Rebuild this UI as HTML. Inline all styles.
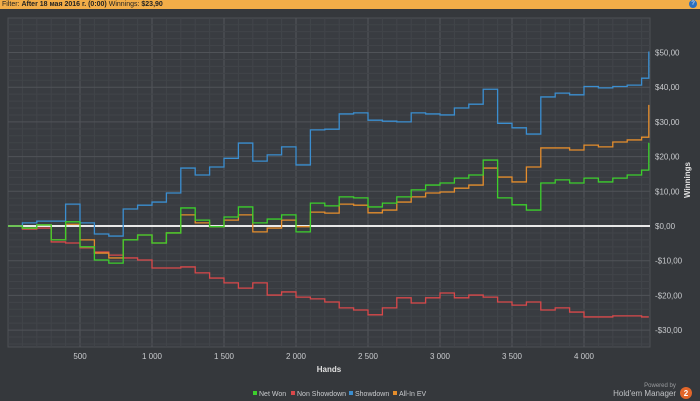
<!DOCTYPE html>
<html><head><meta charset="utf-8"><style>
body{margin:0;background:#35383c;font-family:"Liberation Sans",sans-serif;}
#wrap{position:relative;width:700px;height:401px;overflow:hidden;background:#35383c;}
#bar{position:absolute;left:0;top:0;width:700px;height:9px;background:#f2ad48;font-size:7px;line-height:9px;color:#222;padding-left:2px;box-sizing:border-box;}
#help{position:absolute;right:3px;top:0;width:8px;height:8px;border-radius:50%;background:#2a6fc0;color:#fff;font-size:6px;line-height:8px;text-align:center;}
svg{position:absolute;left:0;top:0;}
</style></head><body>
<div id="wrap">
<div id="bar">Filter: <b>After 18 мая 2016 г. (0:00)</b> Winnings: <b>$23,90</b><span id="help">?</span></div>
<svg id="chart" width="700" height="401"></svg>
</div>
<script>
const hands=[0,100,200,300,400,500,600,700,800,900,1000,1100,1200,1300,1400,1500,1600,1700,1800,1900,2000,2100,2200,2300,2400,2500,2600,2700,2800,2900,3000,3100,3200,3300,3400,3500,3600,3700,3800,3900,4000,4100,4200,4300,4400,4450];
const showdown=[0,0.9,1.4,1.4,6.3,0.9,-2.3,-2.9,4.9,6.0,6.9,9.5,16.7,14.7,17.0,19.5,23.9,18.7,20.5,22.8,17.6,27.7,27.9,32.3,32.6,30.5,30.2,30.0,32.6,32.3,32.0,34.0,35.1,39.4,29.6,28.3,26.5,37.2,38.3,37.8,40.2,39.8,40.2,40.6,42.6,50.3];
const netWon=[0,-0.6,0.3,-4,1.2,-6,-9.8,-10.7,-4,-2.6,-4.9,-2,5.2,1.7,-0.2,2.6,5.5,0.9,2,3.2,-1.7,6.6,5.8,8.4,8.1,5.5,6.6,8.4,10.4,11.8,12.4,13.8,14.7,19,8.1,6.1,4.6,12.4,13.3,12.4,13.8,12.7,13.8,14.7,16.1,24.0];
const allInEV=[0,-0.6,0.3,-4,0.5,-4,-7.8,-9.2,-4,-2.6,-4.9,-2,3.2,0.9,-0.2,1.7,3.2,-1.7,-0.6,1.7,-0.2,4,3.7,6.3,6,3.8,4.6,6.9,8.4,9.5,9.8,10.9,11.8,16.7,14.1,12.7,17,22.5,22.5,21.9,23.3,22.8,24.2,24.8,25.6,34.9];
const nonShowdown=[0,-0.9,-0.6,-4.6,-4.9,-6.3,-7.5,-8.4,-9.2,-9.8,-12.1,-12.1,-11.8,-13.5,-15,-16.4,-17.9,-16.4,-19.9,-19,-20.5,-21,-21.9,-23.6,-24.2,-25.6,-23.6,-20.7,-22.2,-20.7,-19.3,-20.7,-19.9,-20.5,-21.9,-22.8,-21.9,-24.2,-23.6,-24.8,-26.2,-26.2,-25.9,-25.9,-26.2,-26.2];
const xTicks=[500,1000,1500,2000,2500,3000,3500,4000];
const xTickLabels=["500","1 000","1 500","2 000","2 500","3 000","3 500","4 000"];
const yTicks=[50,40,30,20,10,0,-10,-20,-30];
const yTickLabels=["$50,00","$40,00","$30,00","$20,00","$10,00","$0,00","-$10,00","-$20,00","-$30,00"];
const L=8,R=650,T=18,B=347;
const X=h=>L+h*0.144;
const Y=v=>226-v*3.47;
const svg=document.getElementById('chart');
const NS='http://www.w3.org/2000/svg';
function mk(tag,attrs){const e=document.createElementNS(NS,tag);for(const k in attrs)e.setAttribute(k,attrs[k]);svg.appendChild(e);return e;}
let r=mk('rect',{x:L,y:T,width:R-L,height:B-T,fill:'#393c41',stroke:'#4d5055'});


for(let h=100;X(h)<R;h+=100){const l=mk('line',{x1:X(h),x2:X(h),y1:T,y2:B,stroke:h%500?'#42454a':'#53565b','stroke-width':1});

}
for(let v=-34;v<=60;v+=2){const y=Y(v);if(y<T||y>B)continue;const l=mk('line',{x1:L,x2:R,y1:y,y2:y,stroke:v%10?'#414449':'#505358','stroke-width':1});

}
xTicks.forEach((h,i)=>{const t=mk('text',{x:X(h),y:359,fill:'#c9cbce','font-size':8,'text-anchor':'middle'});t.textContent=xTickLabels[i];

});
yTicks.forEach((v,i)=>{const t=mk('text',{x:655,y:Y(v)+3,fill:'#c9cbce','font-size':8});t.textContent=yTickLabels[i];

});
let xt=mk('text',{x:329,y:372,fill:'#e0e0e0','font-size':8,'font-weight':'bold','text-anchor':'middle'});xt.textContent='Hands';


let yt=mk('text',{x:0,y:0,fill:'#e0e0e0','font-size':8,'font-weight':'bold','text-anchor':'middle',transform:'translate(690,180) rotate(-90)'});yt.textContent='Winnings';


let z=mk('line',{x1:L,x2:R,y1:Y(0),y2:Y(0),stroke:'#e8e8e8','stroke-width':2});


function series(vals,color,name){let d='M'+X(hands[0])+','+Y(vals[0]);for(let i=1;i<hands.length;i++){d+=' H'+X(hands[i])+' V'+Y(vals[i]);}
const p=mk('path',{d:d,fill:'none',stroke:color,'stroke-width':1.3});

}
series(nonShowdown,'#d9484a','non-showdown-line');
series(showdown,'#3b8ed0','showdown-line');
series(allInEV,'#e48d2c','all-in-ev-line');
series(netWon,'#3ccf2c','net-won-line');
const legendNames=['Net Won','Non Showdown','Showdown','All-In EV'];
const legendColors=['#3ccf2c','#d9484a','#3b8ed0','#e48d2c'];
const legendX=[253,291,349,393];
legendNames.forEach((n,i)=>{const s=mk('rect',{x:legendX[i],y:391,width:4,height:4,fill:legendColors[i]});


const t=mk('text',{x:legendX[i]+6,y:396,fill:'#c9cbce','font-size':7});t.textContent=n;

});
let pb=mk('text',{x:660,y:387,fill:'#9a9c9f','font-size':6,'text-anchor':'middle'});pb.textContent='Powered by';


let hm=mk('text',{x:676,y:396,fill:'#c0c2c5','font-size':8,'text-anchor':'end'});hm.textContent="Hold'em Manager";


let lg=mk('circle',{cx:686,cy:393,r:6,fill:'#e2662a'});


let lt=mk('text',{x:686,y:396,fill:'#fff','font-size':8,'font-weight':'bold','text-anchor':'middle'});lt.textContent='2';


</script>
</body></html>
